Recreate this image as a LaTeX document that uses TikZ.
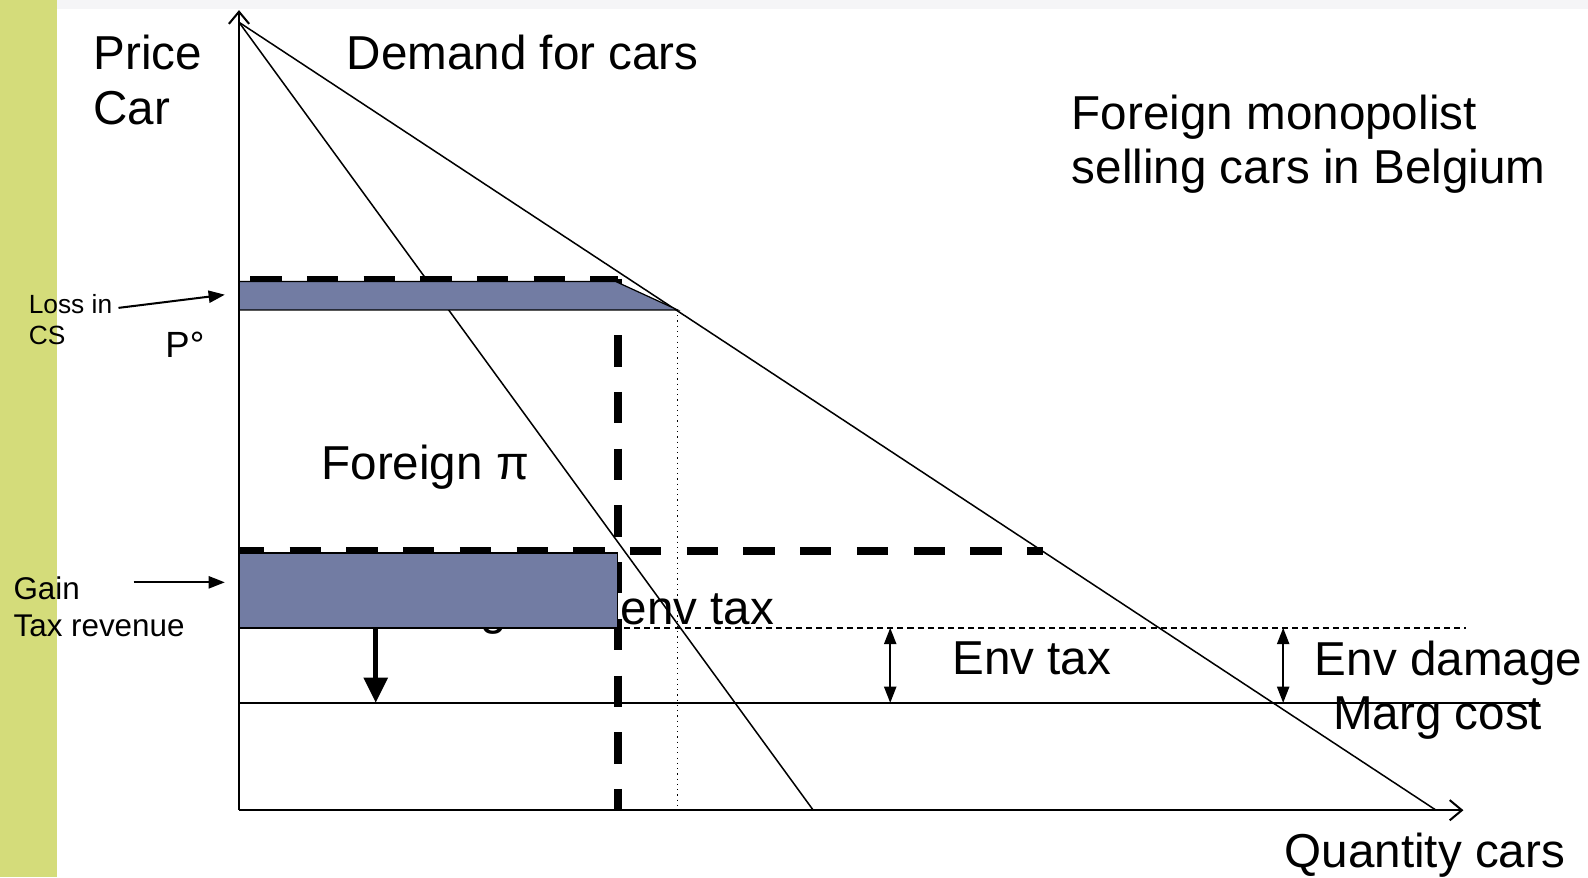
\documentclass[tikz,border=0pt]{standalone}
\usepackage{fontspec}
\setmainfont{Liberation Sans}
\usetikzlibrary{arrows.meta}

\definecolor{slidegreen}{RGB}{212,220,122}
\definecolor{areablue}{RGB}{114,124,163}
\definecolor{topband}{RGB}{245,245,247}

\begin{document}
\begin{tikzpicture}[
        x=0.5pt, y=-0.5pt,
        big label/.style={font=\fontsize{23.5}{27}\selectfont, inner sep=0pt, anchor=north west, align=left},
        small label/.style={font=\fontsize{13}{15.5}\selectfont, inner sep=0pt, anchor=north west, align=left},
        mid label/.style={font=\fontsize{15.5}{18.5}\selectfont, inner sep=0pt, anchor=north west, align=left},
        axis/.style={line width=1pt, -{Straight Barb[length=6pt,width=10pt]}},
        curve/.style={line width=0.75pt},
        area/.style={fill=areablue, draw=black, line width=0.6pt},
        fat dash/.style={line width=4pt, dash pattern=on 15.5pt off 12.5pt},
        pointer/.style={line width=1pt, -{Triangle[length=8pt,width=6pt]}},
        gap arrow/.style={line width=0.9pt, {Triangle[length=8pt,width=6pt]}-{Triangle[length=8pt,width=6pt]}}
      ]

      \useasboundingbox (0,0) rectangle (1568,866);
      \fill [slidegreen] (0,0) rectangle (56,866);
      \fill [topband] (56,0) rectangle (1568,9);

      % points of the diagram
      \coordinate (O) at (236,800);
      \coordinate (ytop) at (236,10);
      \coordinate (xend) at (1445,800);
      \coordinate (choke) at (236,22);
      \coordinate (dq) at (1418,800);
      \coordinate (mrq) at (803,800);
      \coordinate (pdem) at (669,306);
      \coordinate (pq) at (669,800);
      \coordinate (mcl) at (236,694);
      \coordinate (mcr) at (1520,694);
      \coordinate (taxl) at (236,620);
      \coordinate (taxr) at (1448,620);

      % demand and marginal revenue
      \draw [curve] (choke) -- (dq);
      \draw [curve] (choke) -- (mrq);
      \draw [dotted, line width=0.6pt] (pdem) -- (pq);
      \draw [curve] (mcl) -- (mcr);
      \draw [dash pattern=on 3pt off 2pt, line width=0.6pt] (taxl) -- (taxr);
      \node[big label, anchor=base west] (mctax) at (393,617) {Marg cost env tax};

      \draw [fat dash, line width=3.5pt] (247,276) -- (610,276);
      \draw [fat dash, dash phase=3pt] (236,544) -- (1030,544);
      \draw [fat dash] (610,275) -- (610,800);

      % shaded areas
      \draw [area] (236,278) -- (608,278) -- (pdem) -- (236,306) -- cycle;
      \draw [area] (236,546) rectangle (610,620);

      \draw [axis] (O) -- (ytop);
      \draw [axis] (O) -- (xend);

      \draw [line width=2.5pt, -{Triangle[length=12.5pt,width=11.5pt]}] (371,620) -- (371,694);
      \draw [gap arrow] (879,620) -- (879,694);
      \draw [gap arrow] (1267,620) -- (1267,694);

      % labels
      \node[big label] (price) at (92,34) {Price\\Car};
      \node[big label] (demand) at (342,34) {Demand for cars};
      \node[big label] (title) at (1058,93) {Foreign monopolist\\selling cars in Belgium};
      \node[big label] (profit) at (317,439) {Foreign π};
      \node[big label] (envtax) at (940,633) {Env tax};
      \node[big label] (envdam) at (1298,633) {Env damage};
      \node[big label] (mc) at (1316,688) {Marg cost};
      \node[big label] (qty) at (1268,822) {Quantity cars};
      \node[small label] (loss) at (28,290) {Loss in\\CS};
      \node[font=\fontsize{18}{20}\selectfont, inner sep=0pt, anchor=north west] (pzero) at (163,327) {P°};
      \node[mid label] (gain) at (13,569) {Gain\\Tax revenue};

      \draw [pointer] (117,304) -- (222,291);
      \draw [pointer] (132,575) -- (222,575);

    \end{tikzpicture}
\end{document}
